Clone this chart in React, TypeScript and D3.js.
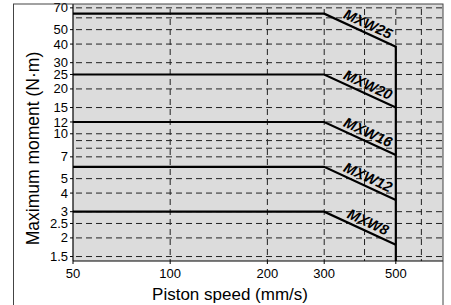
import React from "react";
import * as d3 from "d3";

const models = ["MXW8", "MXW12", "MXW16", "MXW20", "MXW25"];
const maxMoment = [3, 6, 12, 25, 64];
const endMoment = [1.8, 3.6, 7.2, 15, 38.4];
const speedMin = 50;
const speedBreak = 300;
const speedMax = 500;
const xTicks = [50, 100, 200, 300, 500];
const xGrid = [100, 200, 300, 400, 500, 600];
const yTicks = [1.5, 2, 2.5, 3, 4, 5, 7, 10, 12, 15, 20, 25, 30, 40, 50, 70];
const yGrid = [1.5, 2, 2.5, 3, 4, 5, 6, 7, 8, 9, 10, 12, 15, 20, 25, 30, 40, 50, 60, 70];
const xTitle = "Piston speed (mm/s)";
const yTitle = "Maximum moment (N·m)";

const W = 451, H = 305;
const L = 73, R = 443, T = 4, B = 261;
const font = "'Liberation Sans', Arial, Helvetica, sans-serif";

export default function App() {
  const x = d3.scaleLog().domain([50, 700]).range([L, R]);
  const y = d3.scaleLog().domain([1.4, 74.3]).range([B, T]);
  const line = d3.line<[number, number]>().x(d => x(d[0])).y(d => y(d[1]));
  const fmt = (v: number) => String(v);

  return (
    <svg width={W} height={H} style={{ position: "absolute", left: 0, top: 0, background: "#fff" }}>
      <rect x={L} y={T} width={R - L} height={B - T} fill="#dcdcdc" />
      {yGrid.map((v, i) => (
        <line key={"hg" + i} x1={L + 3} x2={R} y1={y(v)} y2={y(v)} stroke="#222" strokeWidth={1} strokeDasharray="6,4" />
      ))}
      {xGrid.map((v, i) => (
        <line key={"vg" + i} x1={x(v)} x2={x(v)} y1={T + 5} y2={B} stroke="#222" strokeWidth={1} strokeDasharray="6,4" />
      ))}
      {models.map((m, i) => (
        <path key={"l" + m} d={line([[speedMin, maxMoment[i]], [speedBreak, maxMoment[i]], [speedMax, endMoment[i]]]) || ""}
          fill="none" stroke="#000" strokeWidth={2.2} />
      ))}
      <line x1={x(speedMax)} x2={x(speedMax)} y1={y(endMoment[endMoment.length - 1]) - 1} y2={B} stroke="#000" strokeWidth={2.2} />
      {models.map((m, i) => {
        const x0 = x(speedBreak), y0 = y(maxMoment[i]);
        const x1 = x(speedMax), y1 = y(endMoment[i]);
        const f = 0.56;
        const cx = x0 + (x1 - x0) * f, cy = y0 + (y1 - y0) * f;
        const ang = (Math.atan2(y1 - y0, x1 - x0) * 180) / Math.PI;
        return (
          <text key={"t" + m} transform={`translate(${cx},${cy}) rotate(${ang})`} y={-4} textAnchor="middle"
            fontFamily={font} fontSize={14.5} fontWeight="bold" fontStyle="italic" fill="#000">{m}</text>
        );
      })}
      <line x1={L} x2={L} y1={T} y2={B} stroke="#000" strokeWidth={1.2} />
      <line x1={L} x2={R} y1={B} y2={B} stroke="#000" strokeWidth={1.2} />
      {yTicks.map((v, i) => (
        <g key={"yt" + i}>
          <line x1={L - 3} x2={L} y1={y(v)} y2={y(v)} stroke="#000" />
          <text x={L - 5} y={y(v)} dy="0.35em" textAnchor="end" fontFamily={font} fontSize={13} fill="#000">{fmt(v)}</text>
        </g>
      ))}
      {xTicks.map((v, i) => (
        <g key={"xt" + i}>
          <line x1={x(v)} x2={x(v)} y1={B} y2={B + 3} stroke="#000" />
          <text x={x(v)} y={B + 17} textAnchor="middle" fontFamily={font} fontSize={13} fill="#000">{fmt(v)}</text>
        </g>
      ))}
      <text x={230} y={300} textAnchor="middle" fontFamily={font} fontSize={17} fill="#000">{xTitle}</text>
      <text transform={`translate(39,${(T + B) / 2 + 16}) rotate(-90)`} textAnchor="middle" fontFamily={font} fontSize={17.5} fill="#000">{yTitle}</text>
      <rect x={13.5} y={4} width={R - 13.5} height={H} fill="none" stroke="#444" strokeWidth={1} />
    </svg>
  );
}
